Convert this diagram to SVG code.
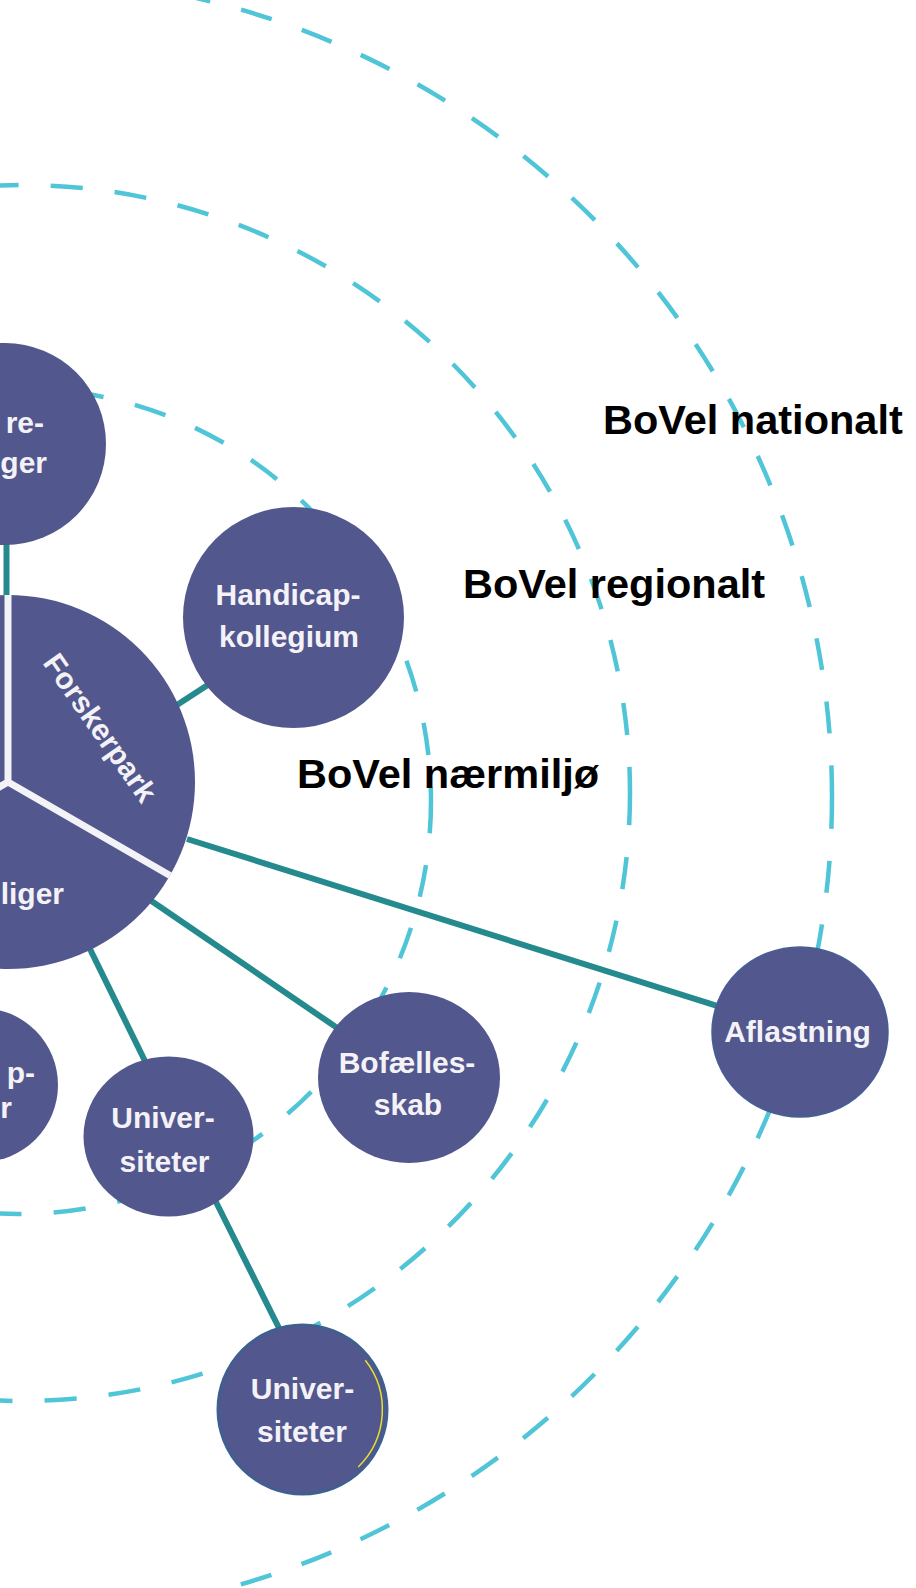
<svg xmlns="http://www.w3.org/2000/svg" width="916" height="1588" viewBox="0 0 916 1588">
<style>
.ring{fill:none;stroke:#4fc5d7;stroke-width:4.5}
.conn{stroke:#258a8d;stroke-width:6;fill:none}
.node{fill:#52578d}
.nt{font-family:"Liberation Sans",Arial,sans-serif;font-weight:bold;font-size:30px;fill:#f4f2f7;text-anchor:middle}
.lab{font-family:"Liberation Sans",Arial,sans-serif;font-weight:bold;font-size:41.5px;fill:#000}
.div{stroke:#f3f2f6;stroke-width:7;fill:none}
</style>
<rect width="916" height="1588" fill="#fff"/>
<g id="rings">
<circle class="ring" cx="12" cy="797" r="820" stroke-dasharray="32 32"/>
<circle class="ring" cx="22" cy="793" r="608" stroke-dasharray="32.2 32.1"/>
<circle class="ring" cx="18" cy="801" r="413" stroke-dasharray="32.3 32.2"/>
</g>
<g id="connectors">
<line class="conn" x1="6.5" y1="520" x2="6.5" y2="620"/>
<line class="conn" x1="160" y1="716" x2="240" y2="664"/>
<line class="conn" x1="150" y1="900" x2="409" y2="1077"/>
<line class="conn" x1="187" y1="839" x2="800" y2="1032"/>
<line class="conn" x1="8" y1="782" x2="170" y2="1112"/>
<line class="conn" x1="205" y1="1180" x2="290" y2="1350"/>
</g>
<g id="node-top-left">
<circle class="node" cx="5" cy="444" r="101"/>
<text class="nt" x="44" y="433" style="text-anchor:end">re-</text>
<text class="nt" x="47" y="473" style="text-anchor:end">ger</text>
</g>
<g id="node-bottom-left">
<circle class="node" cx="-19" cy="1085" r="77"/>
<text class="nt" x="35" y="1083" style="text-anchor:end">p-</text>
<text class="nt" x="12" y="1118" style="text-anchor:end">r</text>
</g>
<g id="node-main">
<circle class="node" cx="8" cy="782" r="187"/>
<path class="div" d="M8 595V782L170 875.5M8 782L-154 875.5"/>
<text class="nt" transform="translate(100,728) rotate(55)" y="10">Forskerpark</text>
<text class="nt" x="64" y="904" style="text-anchor:end">liger</text>
</g>
<g id="node-handicap">
<circle class="node" cx="293.5" cy="617.5" r="110.5"/>
<text class="nt" x="288" y="605">Handicap-</text>
<text class="nt" x="289" y="647">kollegium</text>
</g>
<g id="node-univ1">
<ellipse class="node" cx="168.5" cy="1136.5" rx="85" ry="80"/>
<text class="nt" x="163" y="1128">Univer-</text>
<text class="nt" x="164.5" y="1172">siteter</text>
</g>
<g id="node-bofaelles">
<ellipse class="node" cx="409" cy="1077.5" rx="91" ry="85.5"/>
<text class="nt" x="407" y="1073">Bofælles-</text>
<text class="nt" x="408" y="1115">skab</text>
</g>
<g id="node-aflastning">
<ellipse class="node" cx="800" cy="1032" rx="88" ry="85" stroke="#455f96" stroke-width="1.5"/>
<text class="nt" x="797.5" y="1042">Aflastning</text>
</g>
<g id="node-univ2">
<circle class="node" cx="302.5" cy="1409.5" r="84.5" stroke="#3f5f90" stroke-width="3"/>
<path d="M365.3 1360.3A80 80 0 0 1 358.2 1467" fill="none" stroke="#e6e22a" stroke-width="1.5"/>
<text class="nt" x="302.5" y="1399">Univer-</text>
<text class="nt" x="302" y="1442">siteter</text>
</g>
<g id="labels">
<text class="lab" x="603" y="434">BoVel nationalt</text>
<text class="lab" x="463" y="598">BoVel regionalt</text>
<text class="lab" x="297" y="788">BoVel nærmiljø</text>
</g>
</svg>
